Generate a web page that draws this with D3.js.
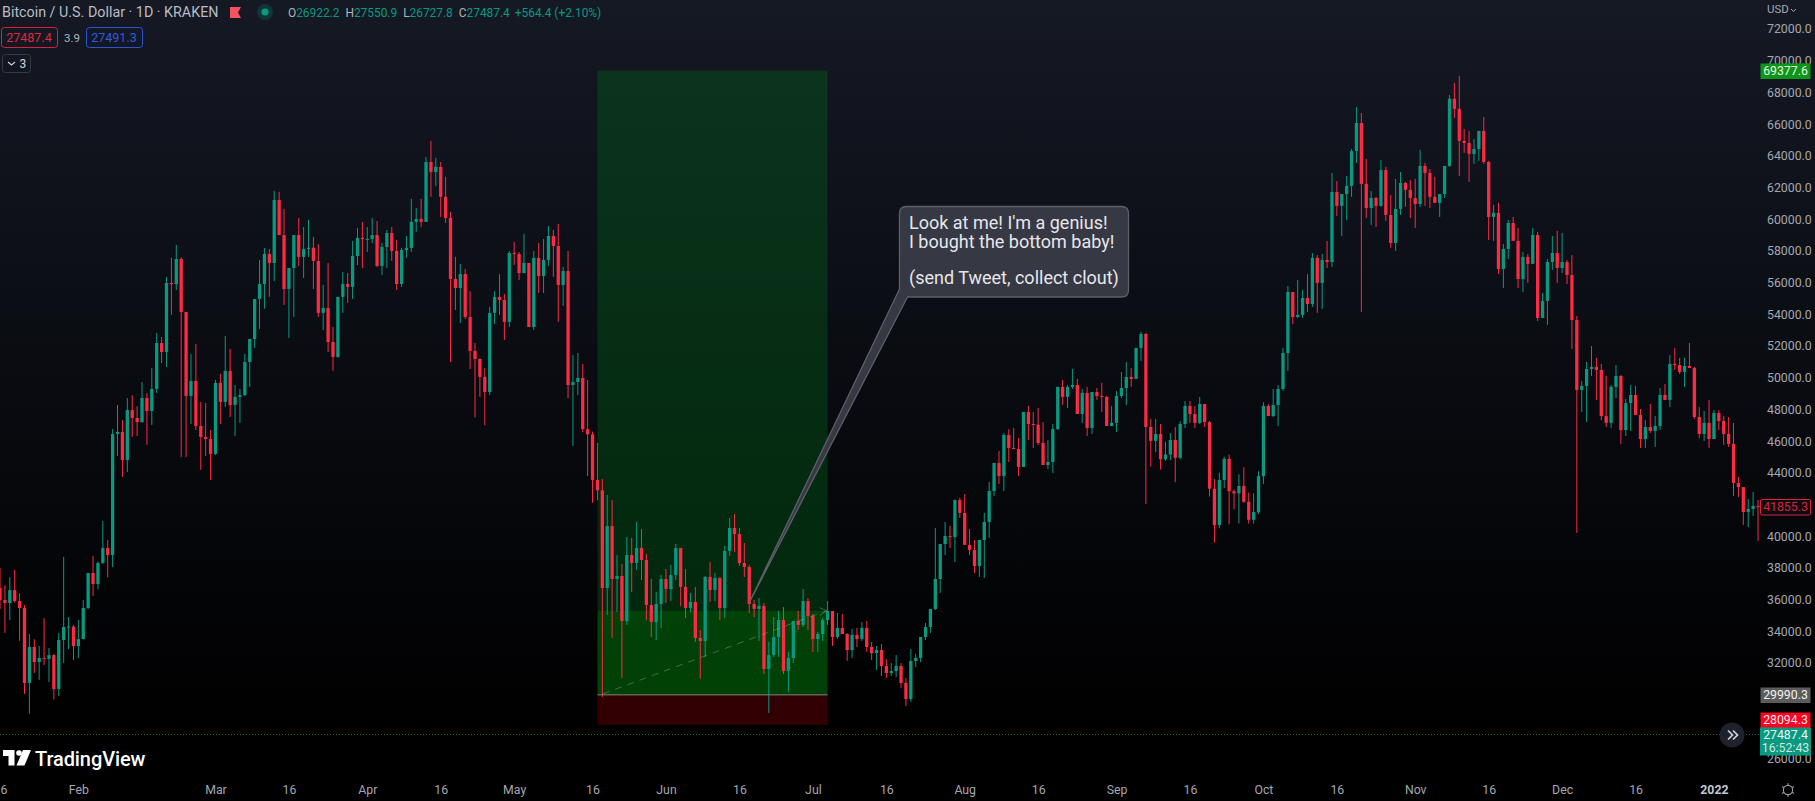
<!DOCTYPE html>
<html><head><meta charset="utf-8">
<script src="https://cdn.jsdelivr.net/npm/d3@7/dist/d3.min.js"></script>
<style>
html,body{margin:0;padding:0;background:#000;overflow:hidden}
svg{display:block}
text{font-family:Roboto,"Noto Sans",sans-serif}
</style></head><body>
<script>
// BTC/USD daily candles, 16 Jan 2021 to 10 Jan 2022, one value per day.
const firstDay = "2021-01-16";
const firstOpen = 36730;
const closes = [
35975,35790,36600,35910,35470,30740,33010,32060,32320,32260,32500,30360,33450,34270,34300,33070,
33510,35470,37680,36980,38310,39250,38810,46450,46580,44810,47960,47460,47200,48720,47900,49290,52190,51620,55980,55900,57490,54150,48850,49790,46950,46260,46130,45190,
49670,48470,50430,48280,48790,48900,50990,52440,54970,55910,57810,57240,61210,59000,55600,56920,59000,57620,58120,58200,57370,54090,54400,52250,51310,55100,55910,55730,57680,58820,58750,
58750,59000,57050,58250,59130,58000,55910,58060,58190,59830,60020,59830,63610,62980,63300,61410,60080,56230,55660,56540,53830,51690,51180,50050,49100,54090,55100,54900,53520,57870,
57810,56600,57240,53200,57560,56420,57430,58940,58310,55850,56730,49540,49730,49980,46750,46430,43550,42900,36730,40640,37300,37490,34650,38810,38310,39250,38500,35660,34590,35720,37300,
36670,37550,39250,36800,35470,35850,33580,33390,37430,36610,37360,35470,39070,40520,40140,38310,38060,35720,35410,35600,31620,32500,33640,34710,31500,32320,34650,34400,35910,34970,
33510,33830,34710,35280,33640,34210,33830,32820,33770,33510,34210,33010,32630,32820,31810,31370,31490,31810,30740,29730,32130,32320,33640,34270,35410,37300,39510,40010,39950,42280,41470,
39450,39130,38120,39760,40900,42850,44620,43800,46390,45570,45500,44370,47840,47080,47040,45880,44490,44680,46760,49420,48790,49420,49540,47710,49040,46830,49100,48850,48790,46950,47150,
48850,49350,50050,49920,51880,52760,46890,46010,46450,44850,45150,46070,44950,47080,48220,47710,47150,48340,47200,43000,40700,43550,44880,42840,42700,43170,42170,41040,41520,43790,
48220,47580,48280,49290,51560,55410,53830,53960,55030,54650,57560,55980,57430,57300,61720,60840,61590,62100,64300,66070,62230,60710,61340,60840,63100,60270,58500,60650,62290,61850,61340,
60960,63360,62920,61410,61030,61590,63360,67600,66960,64940,64810,64120,64430,65570,63610,60140,60400,56860,58120,59760,58630,56230,57620,57180,59000,53770,54840,57300,57870,56920,
57300,56480,53640,49230,49480,50550,50680,50490,47580,47150,49420,50110,46700,48400,48910,47650,46130,46890,46640,46950,48910,48600,50870,50800,50360,50740,50610,47520,46450,47150,46130,
47770,47270,46450,45820,43360,43100,41530,41720,41910,41855.3];
const highs = [
37990,36900,37400,37870,36400,35650,33830,33500,33070,34840,32950,32570,33890,38690,34900,34400,
34710,35980,37680,38750,38400,40960,39760,46760,48280,47330,48720,48900,48200,49730,49040,50600,52820,52570,56360,57560,58380,57600,54150,51500,52130,48470,48400,46700,
49860,50240,52630,51810,49540,49290,51500,52440,54970,57430,58190,58120,61780,61720,60650,56920,59000,60080,59510,59960,58880,58440,55850,57240,53200,55100,56670,56600,58630,59450,59830,
59510,60080,59890,58500,59320,59510,58690,58190,58940,61280,60710,61280,63930,64940,63870,63610,62670,60460,57620,57170,56860,55470,52190,51240,50600,54460,55470,56540,55290,58000,
58570,57930,59070,57240,58000,58500,58750,59570,59320,59700,56990,58000,51430,51560,50870,49860,46600,45880,43610,42600,42280,38810,38250,39950,39890,40900,40450,38880,37300,36480,37550,
37930,38180,39510,39250,37930,36420,36800,34080,37490,38370,37680,37430,39380,41150,41400,40520,39570,38180,35980,36100,35790,33330,34900,35280,35530,32690,34650,35280,36670,36100,
35090,33950,34840,35910,35280,35160,35090,33890,34150,34210,34590,34650,33330,33070,33200,32250,32000,32500,32000,31050,32880,32570,33640,34520,35410,40520,39510,40900,40650,42320,42420,
42660,40450,39760,39760,41470,43420,44620,45380,46510,46760,46830,46200,47840,48220,47840,48090,47200,46070,47080,49420,49860,49540,50550,49920,49290,49420,49100,49350,49670,48850,48220,
49160,50360,50990,50600,51880,52890,52830,47400,47400,47080,45950,46510,46890,47250,48530,48530,48220,48790,48340,47270,43600,44000,45000,45150,42950,43900,44350,42750,42700,44100,
48450,48340,49290,49540,51880,55790,55410,56170,55540,56540,57870,57740,57810,58630,62920,62410,61590,62730,64430,67080,66700,63800,61780,61410,63740,63300,61530,62540,62980,62350,62480,
62540,64370,63550,63170,62670,61590,63360,67840,68600,69040,65690,65570,65060,65570,66450,63680,60900,61030,58440,59950,60140,59450,57930,57810,59450,59200,55350,57490,58940,59260,
59130,57430,57740,53900,49790,50990,52000,51250,50870,50110,49540,50800,50170,48660,49540,49480,48030,47330,48340,47590,49350,49600,51430,51880,51250,51250,52190,50680,48150,47900,48600,
47960,47960,47590,47520,47150,43740,43100,42350,42790,42280];
const lows = [
35400,33900,34700,35800,33400,30050,28800,31370,30930,31870,30800,29700,29920,32000,32880,32190,
32300,33500,35400,36230,36650,38250,37400,38060,45060,43740,44050,46260,46320,47150,45760,47020,49040,50930,50680,53960,55540,45000,45000,47080,46700,44180,45060,43550,
45120,47080,48150,47520,46320,47150,48850,49420,51880,53080,54340,55100,56100,59000,54590,52500,53830,57050,56290,57620,55600,53830,53010,51620,50430,51250,54090,54720,54970,57110,56920,
57930,58500,56990,56480,56920,57370,55540,55730,57560,57930,59200,59510,59830,61410,62100,60140,59760,50990,54270,53450,53700,50550,47500,48790,47000,48900,53390,53960,52380,53200,
57110,56170,56600,53200,53010,55350,55350,57050,56360,53520,54530,48720,45700,48900,46560,43800,42100,42280,29850,35030,33580,35220,31050,34400,36480,37870,37240,34700,33640,33450,34200,
35790,35910,37240,35600,34840,35220,33330,31000,32380,35850,35910,34710,34840,38750,39000,38120,37430,35160,34900,33390,31300,28850,32380,32380,31300,30170,32000,34080,34270,34080,
32690,32690,33390,34400,33070,33510,33830,32130,32320,33010,33390,32690,32190,31560,31180,31050,31180,31120,30420,29290,29540,31750,32060,33450,33890,35340,36420,38810,39250,38370,41150,
39450,38810,37680,37430,37360,39890,42540,43290,42850,44680,45500,43800,44370,46070,45570,45760,44490,44240,43990,46700,48280,48090,49290,47710,47150,46320,46450,48600,47840,46950,46950,
46580,48720,48280,49420,49980,51060,42030,44400,45300,44200,44750,44800,43400,44850,46830,47150,46830,47080,46890,42500,39600,40500,43050,40750,41700,40800,42100,40800,40800,41400,
43300,47580,47520,46950,49160,50430,53390,53770,53770,54150,54460,54090,54340,56920,56990,60200,58940,59950,61410,63550,54150,60080,59640,59510,60780,59890,58190,58000,60270,60780,60080,
59450,60780,60840,60710,61030,60140,61340,63300,66390,62730,64180,62350,63490,63680,63490,58690,58630,56540,55660,57490,58630,55660,55410,55980,57180,53580,53770,53330,56800,55980,
56600,55910,51810,40200,47840,47200,50110,48600,47330,46890,46830,48720,45820,46320,46640,47650,45570,45570,46510,45630,46700,48600,48150,50490,50240,49420,50610,47400,46200,46010,45570,
46130,46700,45760,45630,42540,42470,40710,40580,41280,39700];

// 28000, 30000 and 42000 sit fully behind the price badges, as in the reference.
const priceTicks = [26000,32000,34000,36000,38000,40000,44000,46000,48000,50000,52000,54000,56000,58000,60000,62000,64000,66000,68000,70000,72000];
const timeTickDates = ["2021-01-16","2021-02-01","2021-03-01","2021-03-16","2021-04-01","2021-04-16","2021-05-01","2021-05-17","2021-06-01","2021-06-16","2021-07-01","2021-07-16","2021-08-01","2021-08-16","2021-09-01","2021-09-16","2021-10-01","2021-10-16","2021-11-01","2021-11-16","2021-12-01","2021-12-16","2022-01-01"];
const timeTickLabels = ["16","Feb","Mar","16","Apr","16","May","16","Jun","16","Jul","16","Aug","16","Sep","16","Oct","16","Nov","16","Dec","16","2022"];

const positionStart = "2021-05-18", positionEnd = "2021-07-04";
const entryPrice = 29990.3, stopPrice = 28094.3, lowerTarget = 35300, upperTarget = 69377.6;
const lastPrice = 27487.4, lastMark = 41855.3;
const calloutTipDate = "2021-06-18", calloutTipPrice = 35800;
const calloutLines = ["Look at me! I'm a genius!","I bought the bottom baby!","","(send Tweet, collect clout)"];
const ohlcParts = [["O","26922.2"],["H","27550.9"],["L","26727.8"],["C","27487.4"]];
const changeText = "+564.4 (+2.10%)";

const W = 1815, H = 801;
const UP = "#089981", DOWN = "#fb2a45";
const day = s => new Date(s + "T00:00:00Z");
const d0 = day(firstDay);
const candles = closes.map((c,i)=>({
  date:new Date(+d0 + i*864e5),
  open:i?closes[i-1]:firstOpen, high:highs[i], low:lows[i], close:c}));

const x = d3.scaleUtc().domain([d0, new Date(+d0 + 359*864e5)]).range([0, 1758]);
const y = d3.scaleLinear().domain([32000,72000]).range([663,29]);

const svg = d3.select("body").append("svg").attr("width",W).attr("height",H).attr("viewBox",`0 0 ${W} ${H}`);
const defs = svg.append("defs");
const bg = defs.append("linearGradient").attr("id","bg").attr("x1",0).attr("x2",0).attr("y1",0).attr("y2",1);
bg.append("stop").attr("offset",0).attr("stop-color","#151924");
bg.append("stop").attr("offset",.45).attr("stop-color","#0a0c12");
bg.append("stop").attr("offset",.92).attr("stop-color","#000000");
svg.append("rect").attr("width",W).attr("height",H).attr("fill","url(#bg)");

// position tool (behind the candles)
const pos = svg.append("g");
const px0 = x(day(positionStart)), px1 = x(day(positionEnd));
pos.append("rect").attr("x",px0).attr("width",px1-px0).attr("y",y(upperTarget)).attr("height",y(lowerTarget)-y(upperTarget)).attr("fill","rgba(0,105,25,.36)");
pos.append("rect").attr("x",px0).attr("width",px1-px0).attr("y",y(lowerTarget)).attr("height",y(entryPrice)-y(lowerTarget)).attr("fill","rgba(0,128,10,.5)");
pos.append("rect").attr("x",px0).attr("width",px1-px0).attr("y",y(entryPrice)).attr("height",y(stopPrice)-y(entryPrice)).attr("fill","rgba(125,0,8,.4)");

// last price dotted line
svg.append("line").attr("x1",0).attr("x2",1760).attr("y1",y(lastPrice)).attr("y2",y(lastPrice))
  .attr("stroke",UP).attr("stroke-width",1).attr("stroke-dasharray","1 2").attr("opacity",.7);

// candles
const g = svg.append("g").selectAll("g").data(candles).join("g");
g.append("line").attr("x1",d=>x(d.date)).attr("x2",d=>x(d.date))
  .attr("y1",d=>y(d.high)).attr("y2",d=>y(d.low))
  .attr("stroke",d=>d.close>=d.open?UP:DOWN).attr("stroke-width",1);
g.append("rect").attr("x",d=>x(d.date)-1.65).attr("width",3.3)
  .attr("y",d=>y(Math.max(d.open,d.close)))
  .attr("height",d=>Math.max(1,Math.abs(y(d.open)-y(d.close))))
  .attr("fill",d=>d.close>=d.open?UP:DOWN);

// entry line and dashed path on top of candles
const over = svg.append("g");
over.append("line").attr("x1",px0).attr("x2",px1).attr("y1",y(entryPrice)).attr("y2",y(entryPrice)).attr("stroke","#7f857d").attr("stroke-width",1);
const ax0 = px0+5.5, ax1 = px1-1, ay0 = y(entryPrice)-1, ay1 = y(lowerTarget);
over.append("line").attr("x1",ax0).attr("x2",ax1).attr("y1",ay0).attr("y2",ay1)
  .attr("stroke","rgba(170,170,170,.4)").attr("stroke-width",1).attr("stroke-dasharray","7 6");
over.append("path").attr("d",`M${ax1-7},${ay1-3}L${ax1},${ay1}L${ax1-7},${ay1+5}`).attr("fill","none").attr("stroke","rgba(170,170,170,.4)");

// callout
const tx = x(day(calloutTipDate)), ty = y(calloutTipPrice);
const bx0=899.5,bx1=1128.5,by0=206.5,by1=297,r=7;
over.append("path")
 .attr("d",`M${bx0+r},${by0}H${bx1-r}Q${bx1},${by0} ${bx1},${by0+r}V${by1-r}Q${bx1},${by1} ${bx1-r},${by1}H${bx0+8}L${tx},${ty}L${bx0},${by1-8}V${by0+r}Q${bx0},${by0} ${bx0+r},${by0}Z`)
 .attr("fill","#363843").attr("stroke","#5d6068").attr("stroke-width",1.3).attr("stroke-linejoin","round");
over.selectAll("text.cl").data(calloutLines).join("text").attr("class","cl")
 .attr("x",909).attr("y",(d,i)=>229.3+i*18.2).attr("font-size",18).attr("fill","#e6e7ec").text(d=>d);

// y axis
const yAxis = svg.append("g").attr("transform","translate(1767,0)")
  .call(d3.axisRight(y).tickValues(priceTicks).tickSize(0).tickPadding(0).tickFormat(d3.format(".1f")));
yAxis.select(".domain").remove();
yAxis.selectAll("text").attr("font-size",12.3).attr("fill","#a4a7b0").attr("font-family","Roboto");

// x axis
const xAxis = svg.append("g").attr("transform","translate(0,776)")
  .call(d3.axisBottom(x).tickValues(timeTickDates.map(day)).tickSize(0).tickPadding(9).tickFormat((d,i)=>timeTickLabels[i]));
xAxis.select(".domain").remove();
xAxis.selectAll("text").attr("font-size",12.3).attr("fill",(d,i)=>timeTickLabels[i]==="2022"?"#c4c7d0":"#a4a7b0")
  .attr("font-weight",(d,i)=>timeTickLabels[i]==="2022"?700:400).attr("font-family","Roboto");

// price badges
function badge(price,bgc,txt,fg,stroke,nudge){
  const yy=Math.round(y(price))+(nudge||0);
  const b=svg.append("g");
  b.append("rect").attr("x",1760.5).attr("y",yy-7.5).attr("width",50).attr("height",15.5).attr("rx",stroke?1.5:0)
    .attr("fill",bgc).attr("stroke",stroke||"none");
  b.append("text").attr("x",1785.5).attr("y",yy+4.3).attr("text-anchor","middle").attr("font-size",12.3).attr("fill",fg).text(txt);
}
badge(upperTarget,"#0c9619",upperTarget.toFixed(1),"#e8f3e8");
badge(lastMark,"#0b0d13",lastMark.toFixed(1),"#d9213c","#d9213c");
badge(entryPrice,"#5c5c5c",entryPrice.toFixed(1),"#f0f0f0");
badge(stopPrice,"#ff0022",stopPrice.toFixed(1),"#f6e8e8",null,-5);
const lb=svg.append("g");
lb.append("rect").attr("x",1760).attr("y",727.5).attr("width",51).attr("height",28).attr("fill",UP);
lb.append("text").attr("x",1785.5).attr("y",739).attr("text-anchor","middle").attr("font-size",12.3).attr("fill","#eef6f4").text(lastPrice.toFixed(1));
lb.append("text").attr("x",1785.5).attr("y",752).attr("text-anchor","middle").attr("font-size",12.3).attr("fill","#cfe8e2").text("16:52:43");

svg.append("text").attr("x",1767).attr("y",13).attr("font-size",11.5).attr("fill","#a4a7b0").text("USD");
svg.append("path").attr("d","M1791,9l2.5,2.5l2.5,-2.5").attr("fill","none").attr("stroke","#a4a7b0");

// scroll button
svg.append("circle").attr("cx",1732).attr("cy",735).attr("r",12.5).attr("fill","#1e222d");
svg.append("path").attr("d","M1728,730.5l4.5,4.5l-4.5,4.5M1733,730.5l4.5,4.5l-4.5,4.5").attr("fill","none").attr("stroke","#d1d4dc").attr("stroke-width",1.7);

// gear
const gear=svg.append("g").attr("transform","translate(1788,790)");
gear.append("circle").attr("r",4.6).attr("fill","none").attr("stroke","#9a9da6").attr("stroke-width",1.1);
gear.append("g").selectAll("line").data(d3.range(0,360,60)).join("line")
  .attr("y1",-4.6).attr("y2",-6.8).attr("transform",d=>`rotate(${d})`).attr("stroke","#9a9da6").attr("stroke-width",1.2);

// legend
svg.append("text").attr("x",2).attr("y",17).attr("font-size",14.3).attr("fill","#b9bcc5").text("Bitcoin / U.S. Dollar · 1D · KRAKEN");
svg.append("path").attr("d","M230,7H241L238,12.5L241,18H230Z").attr("fill","#f7525f");
svg.append("circle").attr("cx",265).attr("cy",12).attr("r",8).attr("fill","rgba(8,153,129,.22)");
svg.append("circle").attr("cx",265).attr("cy",12).attr("r",3.6).attr("fill",UP);
const oh=svg.append("text").attr("x",288).attr("y",17).attr("font-size",11.9);
ohlcParts.forEach(([a,b],i)=>{
  oh.append("tspan").attr("fill","#b2b5be").attr("dx",i?6:0).text(a);
  oh.append("tspan").attr("fill",UP).text(b);
});
oh.append("tspan").attr("fill",UP).attr("dx",5).text(changeText);

function chip(x0,x1,y0,y1,col,txt,fg){
  svg.append("rect").attr("x",x0+.5).attr("y",y0+.5).attr("width",x1-x0).attr("height",y1-y0).attr("rx",3).attr("fill","none").attr("stroke",col);
  svg.append("text").attr("x",(x0+x1)/2).attr("y",(y0+y1)/2+4.5).attr("text-anchor","middle").attr("font-size",12.5).attr("fill",fg).text(txt);
}
chip(1,57,27,47,"#d9213c","27487.4","#e0283f");
svg.append("text").attr("x",72).attr("y",41.5).attr("text-anchor","middle").attr("font-size",11.5).attr("fill","#b2b5be").text("3.9");
chip(86,142,27,47,"#2a55d8","27491.3","#2f5be0");
svg.append("rect").attr("x",2.5).attr("y",54.5).attr("width",28).attr("height",18).attr("rx",3).attr("fill","none").attr("stroke","#363a45");
svg.append("path").attr("d","M8,62l3.5,3l3.5,-3").attr("fill","none").attr("stroke","#d1d4dc").attr("stroke-width",1.1);
svg.append("text").attr("x",19.5).attr("y",68).attr("font-size",12).attr("fill","#d1d4dc").text("3");

// logo
const lg=svg.append("g").attr("fill","#ffffff");
lg.append("path").attr("d","M3,750H14.5V765.5H8.5V756H3Z");
lg.append("circle").attr("cx",19).attr("cy",753).attr("r",2.8);
lg.append("path").attr("d","M23,750H31L24.5,765.5H16.5Z");
lg.append("text").attr("x",35).attr("y",765.5).attr("font-size",20).attr("font-weight",500).attr("letter-spacing",-.1).attr("fill","#ffffff").text("TradingView");
</script>
</body></html>
